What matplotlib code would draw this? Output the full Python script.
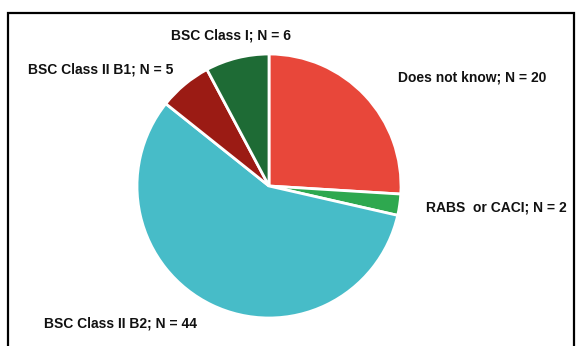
import matplotlib.pyplot as plt

# Survey answers
labels = ['Does not know; N = 20', 'RABS  or CACI; N = 2', 'BSC Class II B2; N = 44',
          'BSC Class II B1; N = 5', 'BSC Class I; N = 6']
counts = [20, 2, 44, 5, 6]
colors = ['#E8473A', '#2EA84F', '#47BCC8', '#9B1B14', '#1E6B35']

W, H = 582, 346
fig = plt.figure(figsize=(W / 100, H / 100), dpi=100)
ax = fig.add_axes([0, 0, 1, 1])
ax.set_xlim(0, W)
ax.set_ylim(0, H)
ax.set_aspect('equal')
ax.axis('off')

ax.pie(counts, colors=colors, startangle=90, counterclock=False,
       center=(269, H - 186), radius=132,
       wedgeprops=dict(edgecolor='white', linewidth=2))
ax.set_xlim(0, W)
ax.set_ylim(0, H)

# label positions (left edge, vertical center)
label_pos = [(398, 77), (426, 208), (44, 324), (28, 70), (171, 36)]
for txt, (x, y) in zip(labels, label_pos):
    ax.text(x, H - y, txt, ha='left', va='center', fontsize=10,
            fontweight='bold', family='Liberation Sans', color='#111111')

# open-bottom frame
ax.plot([8, 8, 574, 574], [0, H - 12.5, H - 12.5, 0], color='black',
        linewidth=1.6, solid_joinstyle='miter')

fig.savefig('out.png', dpi=100)
